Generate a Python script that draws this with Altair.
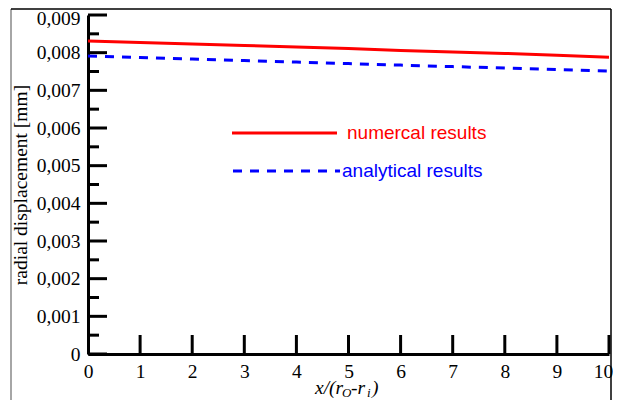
import altair as alt
import pandas as pd

# ---- data ----
x_vals = [0, 1, 2, 3, 4, 5, 6, 7, 8, 9, 10]
numerical = [0.00831, 0.00827, 0.00823, 0.00819, 0.00815, 0.00811, 0.00806, 0.00802, 0.00798, 0.00793, 0.00788]
analytical = [0.00791, 0.00787, 0.00783, 0.00779, 0.00775, 0.00771, 0.00767, 0.00763, 0.00759, 0.00755, 0.00751]
y_major = [0, 0.001, 0.002, 0.003, 0.004, 0.005, 0.006, 0.007, 0.008, 0.009]
y_minor = [0.0005, 0.0015, 0.0025, 0.0035, 0.0045, 0.0055, 0.0065, 0.0075, 0.0085]
x_major = [1, 2, 3, 4, 5, 6, 7, 8, 9, 10]

num_df = pd.DataFrame({"x": x_vals, "y": numerical})
ana_df = pd.DataFrame({"x": x_vals, "y": analytical})
ymaj_df = pd.DataFrame({"y": y_major})
ymin_df = pd.DataFrame({"y": y_minor})
xmaj_df = pd.DataFrame({"x": x_major})
one = num_df.head(1)

SERIF = "Liberation Serif"
SANS = "Liberation Sans"
W, H = 521, 339

xscale = alt.Scale(domain=[0, 10], nice=False, zero=False)
yscale = alt.Scale(domain=[0, 0.009], nice=False, zero=False)

xaxis = alt.Axis(values=x_vals, ticks=False, grid=False, domain=True, domainWidth=3,
                 domainColor="black", labelFont=SERIF, labelFontSize=19.5, labelColor="black",
                 labelPadding=8, title=None, labelFlush=False,
                 labelOffset={"expr": "datum.value == 10 ? -6 : 0"})
yaxis = alt.Axis(values=y_major, ticks=False, grid=False, domain=True, domainWidth=3,
                 domainColor="black", labelFont=SERIF, labelFontSize=19.5, labelColor="black",
                 labelPadding=8, labelFlush=False,
                 labelOffset={"expr": "datum.value > 0.0085 ? 3 : 0"},
                 labelExpr="datum.value == 0 ? '0' : replace(format(datum.value, '.3f'), '.', ',')",
                 title="radial displacement [mm]", titleFont=SERIF, titleFontSize=19.5,
                 titleFontWeight="normal", titleColor="black", titlePadding=6)

X = alt.X("x:Q", scale=xscale, axis=xaxis)
Y = alt.Y("y:Q", scale=yscale, axis=yaxis)

red_line = alt.Chart(num_df).mark_line(color="#ff0000", strokeWidth=3).encode(x=X, y=Y)
blue_line = alt.Chart(ana_df).mark_line(color="#0000ff", strokeWidth=3, strokeDash=[9, 8]).encode(x=X, y=Y)

ymaj_ticks = alt.Chart(ymaj_df).mark_rule(color="black", strokeWidth=3).encode(
    y=Y, x=alt.value(0), x2=alt.value(19))
ymin_ticks = alt.Chart(ymin_df).mark_rule(color="black", strokeWidth=3).encode(
    y=Y, x=alt.value(0), x2=alt.value(11))
xmaj_ticks = alt.Chart(xmaj_df).mark_rule(color="black", strokeWidth=3).encode(
    x=X, y=alt.value(H), y2=alt.value(H - 19))

# legend (inside plot)
leg_red = alt.Chart(one).mark_rule(color="#ff0000", strokeWidth=3).encode(
    x=alt.value(144), x2=alt.value(249), y=alt.value(118))
leg_blue = alt.Chart(one).mark_rule(color="#0000ff", strokeWidth=3, strokeDash=[9, 8]).encode(
    x=alt.value(145), x2=alt.value(252), y=alt.value(156))
leg_red_txt = alt.Chart(one).mark_text(
    text="numercal results", font=SANS, fontSize=19, color="#ff0000", align="left", baseline="middle"
).encode(x=alt.value(259), y=alt.value(118))
leg_blue_txt = alt.Chart(one).mark_text(
    text="analytical results", font=SANS, fontSize=19, color="#0000ff", align="left", baseline="middle"
).encode(x=alt.value(254), y=alt.value(156))

# x-axis title with subscripts
def txt(s, xpx, ypx, size):
    return alt.Chart(one).mark_text(
        text=s, font=SERIF, fontSize=size, fontStyle="italic", color="black",
        align="left", baseline="alphabetic").encode(x=alt.value(xpx), y=alt.value(ypx))

xt = [txt("x/(r", 227, 379, 19.5), txt("O", 254, 382, 13), txt("-r", 263, 379, 19.5),
      txt("i", 279, 382, 13), txt(")", 284, 379, 19.5)]

# outer frame
frame_left = alt.Chart(one).mark_rule(color="#888888", strokeWidth=1.5).encode(
    x=alt.value(-77), y=alt.value(-6), y2=alt.value(430))
frame_top = alt.Chart(one).mark_rule(color="black", strokeWidth=1.5).encode(
    x=alt.value(-77), x2=alt.value(523), y=alt.value(-6))
frame_right = alt.Chart(one).mark_rule(color="black", strokeWidth=1.5).encode(
    x=alt.value(523), y=alt.value(-6), y2=alt.value(430))

chart = alt.layer(
    red_line, blue_line, ymaj_ticks, ymin_ticks, xmaj_ticks,
    leg_red, leg_blue, leg_red_txt, leg_blue_txt, *xt,
    frame_left, frame_top, frame_right
).properties(
    width=W, height=H,
    autosize=alt.AutoSizeParams(type="none"),
    padding={"left": 80, "top": 7, "right": 4, "bottom": 46},
    background="white",
).configure_view(stroke=None)

chart.save("out.html", embed_options={"renderer": "svg", "actions": False})
